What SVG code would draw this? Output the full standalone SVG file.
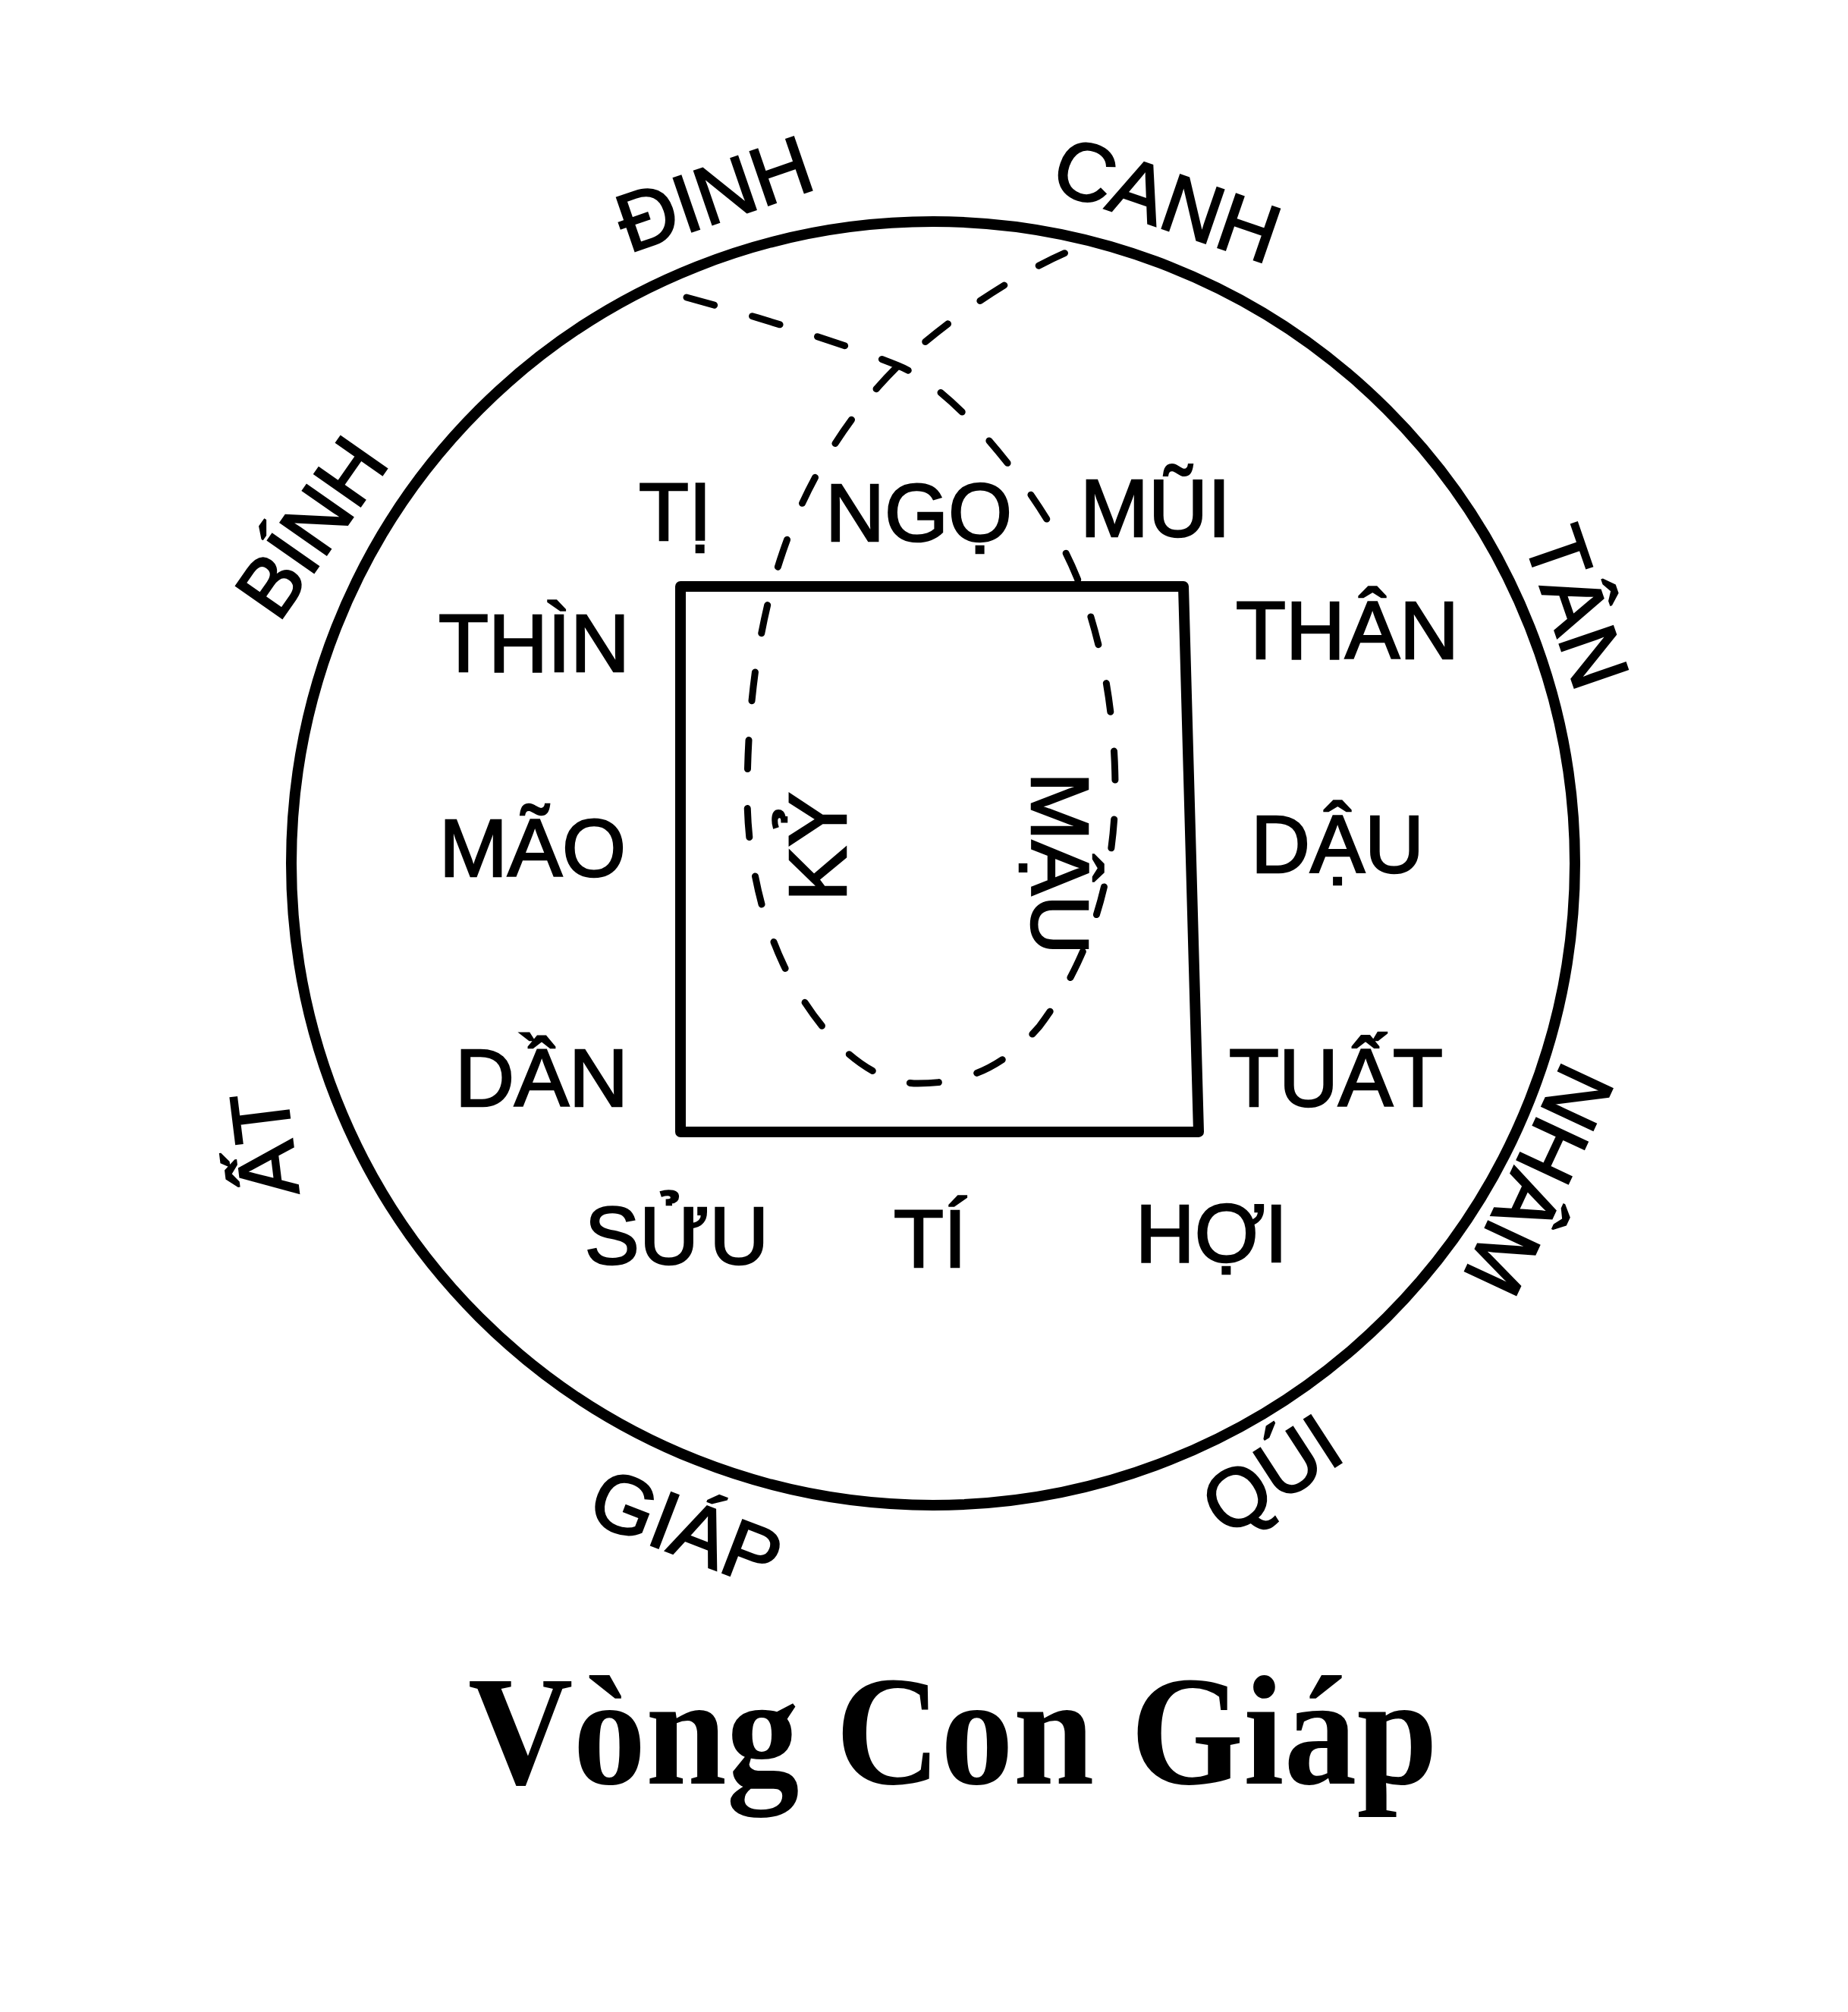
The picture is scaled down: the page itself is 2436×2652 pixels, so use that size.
<svg xmlns="http://www.w3.org/2000/svg" width="2436" height="2652" viewBox="0 0 2436 2652">
<style>
.lbl{font-family:"Liberation Sans","DejaVu Sans",sans-serif;font-size:108px;fill:#000;stroke:#000;stroke-width:2.5;text-anchor:middle}
.title{font-family:"Liberation Serif","DejaVu Serif",serif;font-weight:bold;font-size:205px;fill:#000;text-anchor:middle}
.dash{fill:none;stroke:#000;stroke-width:9;stroke-dasharray:38 52;stroke-linecap:round}
.line{fill:none;stroke:#000;stroke-width:14;stroke-linejoin:round}
</style>
<rect width="2436" height="2652" fill="#fff"/>
<g id="ring"><circle class="line" cx="1230" cy="1138" r="846"/></g>
<g id="box"><polygon class="line" points="897,773 1560,773 1580,1492 897,1492"/></g>
<g id="connectors">
<path class="dash" d="M905,392 C1000,418 1110,452 1184,482 C1260,513 1360,640 1404,727 C1448,814 1470,930 1470,1040 C1470,1150 1440,1260 1370,1353 C1320,1410 1270,1428 1210,1428 C1140,1428 1080,1360 1040,1286 C1005,1220 985,1130 985,1050 C985,930 1000,820 1032,727 C1065,630 1120,545 1184,482 C1250,420 1340,360 1412,330"/>
</g>
<g id="branches">
<text id="ti" class="lbl" x="890" y="712">TỊ</text>
<text id="ngo" class="lbl" x="1211" y="713">NGỌ</text>
<text id="mui" class="lbl" x="1523" y="707">MŨI</text>
<text id="thin" class="lbl" x="704" y="885">THÌN</text>
<text id="than" class="lbl" x="1776" y="868">THÂN</text>
<text id="mao" class="lbl" x="702" y="1155">MÃO</text>
<text id="dau" class="lbl" x="1763" y="1150">DẬU</text>
<text id="dan" class="lbl" x="714" y="1458">DẦN</text>
<text id="tuat" class="lbl" x="1761" y="1458">TUẤT</text>
<text id="suu" class="lbl" x="892" y="1666">SỬU</text>
<text id="ti2" class="lbl" x="1226" y="1670">TÍ</text>
<text id="hoi" class="lbl" x="1597" y="1663">HỢI</text>
</g>
<g id="center-stems">
<text id="ky" class="lbl" transform="translate(1115,1116) rotate(-90)">KỶ</text>
<text id="mau" class="lbl" transform="translate(1360,1138) rotate(90)">MẬU</text>
</g>
<g id="stems">
<text id="dinh" class="lbl" transform="translate(941,254) rotate(-19)" y="39">ĐINH</text>
<text id="canh" class="lbl" transform="translate(1539,262) rotate(19)" y="39">CANH</text>
<text id="binh" class="lbl" transform="translate(409,694) rotate(-55)" y="39">BÍNH</text>
<text id="tan" class="lbl" transform="translate(2080,800) rotate(71)" y="39">TÂN</text>
<text id="at" class="lbl" transform="translate(347,1509) rotate(-97)" y="39">ẤT</text>
<text id="nham" class="lbl" transform="translate(2030,1556) rotate(115)" y="39">NHÂM</text>
<text id="giap" class="lbl" transform="translate(905,2013) rotate(21)" y="39">GIÁP</text>
<text id="qui" class="lbl" transform="translate(1675,1942) rotate(-33)" y="39">QÚI</text>
</g>
<g id="caption"><text class="title" x="1256" y="2351" textLength="1278" lengthAdjust="spacingAndGlyphs">Vòng Con Giáp</text></g>
</svg>
